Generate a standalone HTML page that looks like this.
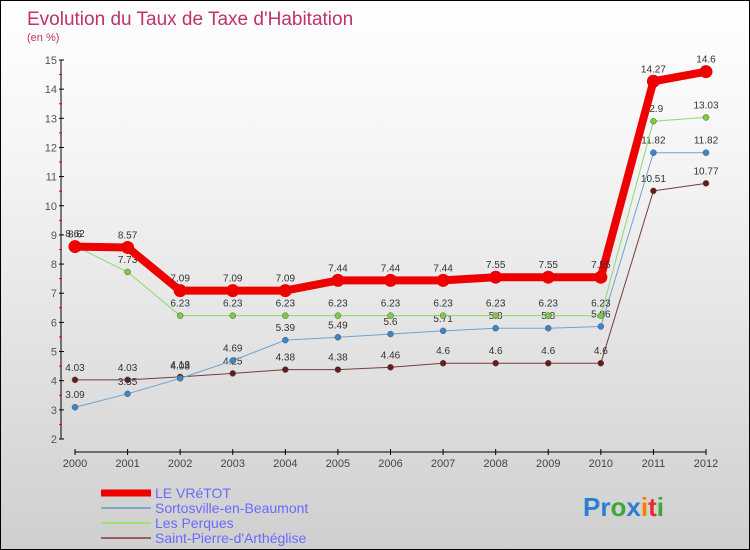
<!DOCTYPE html>
<html><head><meta charset="utf-8"><style>
body{margin:0}
#wrap{width:748px;height:548px;border:1px solid #000;background:linear-gradient(#ffffff,#f4f4f4 30%,#cfcfcf);position:relative;overflow:hidden;font-family:"Liberation Sans",sans-serif}
svg text{font-family:"Liberation Sans",sans-serif}
</style></head><body>
<div id="wrap">
<svg id="c" width="748" height="548"></svg>
</div>
<script>
const years=[2000,2001,2002,2003,2004,2005,2006,2007,2008,2009,2010,2011,2012];
const yTicks=[2,3,4,5,6,7,8,9,10,11,12,13,14,15];
const vretot=[8.6,8.57,7.09,7.09,7.09,7.44,7.44,7.44,7.55,7.55,7.55,14.27,14.6];
const sortosville=[3.09,3.55,4.08,4.69,5.39,5.49,5.6,5.71,5.8,5.8,5.86,11.82,11.82];
const perques=[8.62,7.73,6.23,6.23,6.23,6.23,6.23,6.23,6.23,6.23,6.23,12.9,13.03];
const stpierre=[4.03,4.03,4.13,4.25,4.38,4.38,4.46,4.6,4.6,4.6,4.6,10.51,10.77];
const NS='http://www.w3.org/2000/svg';
const svg=document.getElementById('c');
const X=i=>74+i*(631/12);
const Y=v=>438-(v-2)*(379/13);
function el(t,a,p){const e=document.createElementNS(NS,t);for(const k in a)e.setAttribute(k,a[k]);(p||svg).appendChild(e);return e;}
function txt(s,a){const e=el('text',a);e.textContent=s;return e;}
let t=txt('Evolution du Taux de Taxe d\'Habitation',{x:26,y:24,'font-size':19,fill:'#c0306a'});


t=txt('(en %)',{x:26,y:40,'font-size':11,fill:'#c0306a'});


let a=el('line',{x1:60,y1:Y(15),x2:60,y2:Y(2),stroke:'#000'});


a=el('line',{x1:74,y1:451,x2:705,y2:451,stroke:'#000'});


yTicks.forEach(v=>{
 el('line',{x1:58,x2:63,y1:Y(v),y2:Y(v),stroke:'#000'});
 if(v<15)el('line',{x1:58,x2:61,y1:Y(v+0.5),y2:Y(v+0.5),stroke:'#e00'});
 const l=txt(v,{x:56,y:Y(v)+4,'font-size':11,fill:'#555','text-anchor':'end'});
 
 
});
years.forEach((yr,i)=>{
 el('line',{x1:X(i),x2:X(i),y1:448,y2:454,stroke:'#000'});
 const l=txt(yr,{x:X(i),y:466,'font-size':11,fill:'#444','text-anchor':'middle'});
 
 
});
function series(vals,color,w,r,dot,name){
 const g=el('g',{});
 
 
 el('polyline',{points:vals.map((v,i)=>X(i)+','+Y(v)).join(' '),fill:'none',stroke:color,'stroke-width':w,'stroke-linejoin':'round'},g);
 vals.forEach((v,i)=>{
  const c=el('circle',{cx:X(i),cy:Y(v),r:r,fill:dot,stroke:'#555','stroke-width':w>3?0:0.5},g);
  
  
  const l=el('text',{x:X(i),y:Y(v)-9,'font-size':10,fill:'#333','text-anchor':'middle'},g);
  l.textContent=v;
 });
}
series(stpierre,'#7a3b3b',1,3,'#6a1a1a','series-saint-pierre');
series(sortosville,'#6fa3cf',1,3,'#3a86c8','series-sortosville');
series(perques,'#8fd96a',1,3,'#7ccc3c','series-les-perques');
series(vretot,'#ee0000',8,6.5,'#ee0000','series-le-vretot');
const leg=[['LE VRéTOT','#ee0000',7],['Sortosville-en-Beaumont','#7fa8c8',2],['Les Perques','#a0e070',2],['Saint-Pierre-d\'Arthéglise','#9a6060',2]];
leg.forEach((d,i)=>{
 const y=492+i*15;
 const g=el('g',{});
 
 
 el('line',{x1:100,x2:150,y1:y,y2:y,stroke:d[1],'stroke-width':d[2]},g);
 const l=el('text',{x:154,y:y+5,'font-size':14,fill:'#6a6aff'},g);
 l.textContent=d[0];
});
const lg=el('text',{x:582,y:515,'font-size':26,'font-weight':'bold'});


[['Pr','#2a7fd0'],['o','#3aa83a'],['x','#2a7fd0'],['i','#ff7a00'],['t','#e03030'],['i','#3aa83a']].forEach(p=>{const s=el('tspan',{fill:p[1]},lg);s.textContent=p[0];});
</script>
</body></html>
